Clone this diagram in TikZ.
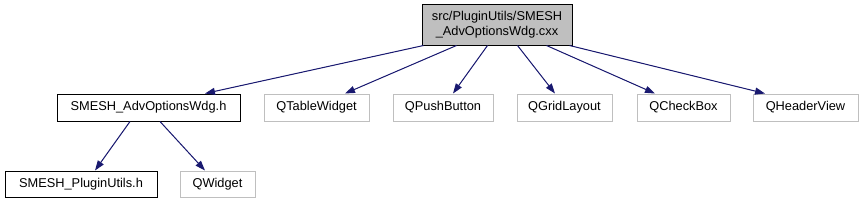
\documentclass[tikz,border=0pt]{standalone}
\usepackage{fontspec}
\setmainfont{Liberation Sans}
\usetikzlibrary{arrows.meta}
\definecolor{edgeblue}{HTML}{191970}
\definecolor{boxgray}{HTML}{BFBFBF}
\definecolor{fillgray}{HTML}{BFBFBF}
\tikzset{
  base/.style={rectangle, inner sep=0pt, line width=1pt, minimum height=27pt, font=\fontsize{12.8pt}{15pt}\selectfont, text=black},
  docbox/.style={base, draw=black, fill=white},
  extbox/.style={base, draw=boxgray, fill=white},
  rootbox/.style={base, draw=black, fill=fillgray, minimum height=41pt, align=center},
  edge/.style={draw=edgeblue, line width=1pt, -{Triangle[length=10pt,width=7pt]}, fill=edgeblue}
}
\begin{document}
\begin{tikzpicture}[x=1pt,y=-1pt]
\useasboundingbox (0,0) rectangle (863,201);
\node[rootbox, minimum width=150pt] (top) at (497,24.5) {src/PluginUtils/SMESH\\\_AdvOptionsWdg.cxx};
\node[docbox, minimum width=183pt] (adv) at (148.5,107.5) {SMESH\_AdvOptionsWdg.h};
\node[extbox, minimum width=105pt] (qtw) at (316.5,107.5) {QTableWidget};
\node[extbox, minimum width=100pt] (qpb) at (443,107.5) {QPushButton};
\node[extbox, minimum width=95pt] (qgl) at (564.5,107.5) {QGridLayout};
\node[extbox, minimum width=93pt] (qcb) at (683.5,107.5) {QCheckBox};
\node[extbox, minimum width=105pt] (qhv) at (805.5,107.5) {QHeaderView};
\node[docbox, minimum width=152pt, minimum height=26pt] (plu) at (81,184) {SMESH\_PluginUtils.h};
\node[extbox, minimum width=75pt, minimum height=26pt] (qw) at (217.5,184) {QWidget};
\draw[edge] ([xshift=2pt]top.south west) -- ([xshift=56.5pt]adv.north);
\draw[edge] ([xshift=35pt]top.south west) -- ([xshift=28.5pt]qtw.north);
\draw[edge] ([xshift=66pt]top.south west) -- ([xshift=10pt]qpb.north);
\draw[edge] ([xshift=96pt]top.south west) -- ([xshift=-9.5pt]qgl.north);
\draw[edge] ([xshift=125pt]top.south west) -- ([xshift=-28.5pt]qcb.north);
\draw[edge] ([xshift=148pt]top.south west) -- ([xshift=-40.5pt]qhv.north);
\draw[edge] ([xshift=-18.5pt]adv.south) -- ([xshift=14pt]plu.north);
\draw[edge] ([xshift=11.5pt]adv.south) -- ([xshift=-12.5pt]qw.north);
\end{tikzpicture}
\end{document}
